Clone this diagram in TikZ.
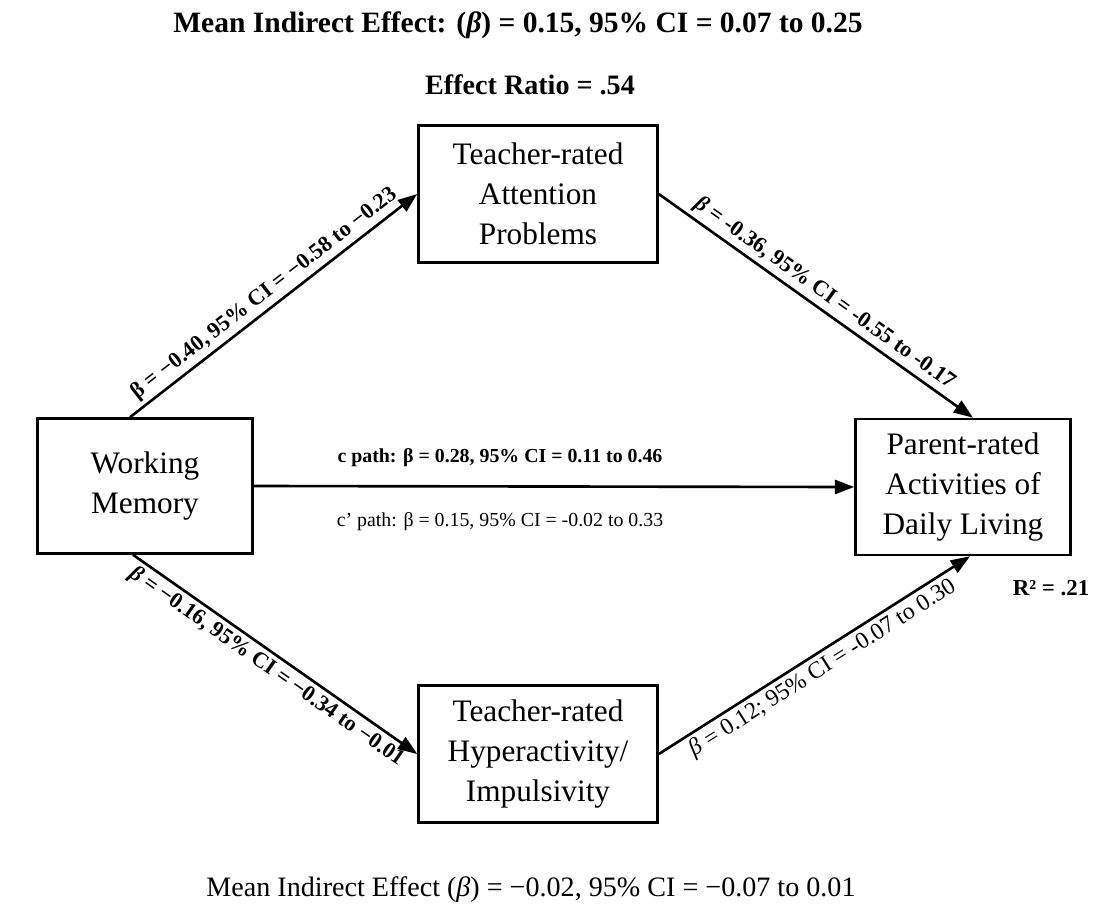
\documentclass[tikz,border=0pt]{standalone}
\usepackage{fontspec}
\setmainfont{Liberation Serif}
\usepackage{tikz}
\usetikzlibrary{positioning}
\usetikzlibrary{arrows.meta}
\usetikzlibrary{calc}

\begin{document}
\begin{tikzpicture}[
                x=0.02cm, y=-0.02cm,
                box/.style={draw, line width=1.5pt, minimum width=4.5cm, minimum height=2.74cm, align=center,
                            font=\fontsize{17.8}{22.7}\selectfont},
                path label/.style={font=\fontsize{12.7}{14}\selectfont\bfseries, sloped, midway, inner sep=2pt},
                link/.style={line width=1.5pt, -{Triangle[length=11pt, width=8pt]}}
            ]
            \useasboundingbox (0,0) rectangle (1106,910);

            % Define nodes
            \node[box, minimum width=4.3cm, minimum height=2.7cm] (wm) at (145,486) {Working\\Memory};
            \node[box, minimum width=4.78cm] (att) at (538,194) {Teacher-rated\\Attention\\Problems};
            \node[box, minimum width=4.3cm, minimum height=2.72cm] (adl) at (963,487) {Parent-rated\\Activities of\\Daily Living};
            \node[box, minimum width=4.78cm] (hyp) at (538,754) {Teacher-rated\\Hyperactivity/\\Impulsivity};

            % Effect texts
            \node[font=\fontsize{16.8}{19}\selectfont\bfseries] (indirect) at (518,25)
                {Mean Indirect Effect: (\textit{β}) = 0.15, 95\% CI = 0.07 to 0.25};
            \node[font=\fontsize{16}{19}\selectfont\bfseries] (ratio) at (530,85) {Effect Ratio = .54};
            \node[font=\fontsize{13}{15}\selectfont\bfseries] (rsq) at (1051,588) {R² = .21};
            \node[font=\fontsize{16}{19}\selectfont] (indirect2) at (531,890)
                {Mean Indirect Effect (\textit{β}) = −0.02, 95\% CI = −0.07 to 0.01};

            % Arrows connecting boxes
            \draw[link] ($(wm.north)+(-15,0)$) -- (att.west)
                node[path label, above] {β = −0.40, 95\% CI = −0.58 to −0.23};
            \draw[link] (att.east) -- ($(adl.north)+(10,0)$)
                node[path label, above] {\textit{β} = -0.36, 95\% CI = -0.55 to -0.17};
            \draw[link] ($(wm.south)+(-12,0)$) -- (hyp.west)
                node[path label, below] {\textit{β} = −0.16, 95\% CI = −0.34 to −0.01};
            \draw[link] (hyp.east) -- ($(adl.south)+(7,0)$)
                node[path label, below, font=\fontsize{13.5}{15}\selectfont] {\textit{β} = 0.12; 95\% CI = -0.07 to 0.30};
            \draw[link] (wm.east) -- (adl.west);
            \node[font=\fontsize{11.3}{13}\selectfont\bfseries] (cpath) at (500,458) {c path: β = 0.28, 95\% CI = 0.11 to 0.46};
            \node[font=\fontsize{11.3}{13}\selectfont, below=36pt of cpath.center, anchor=center] (cprime) {c’ path: β = 0.15, 95\% CI = -0.02 to 0.33};

        \end{tikzpicture}
\end{document}
